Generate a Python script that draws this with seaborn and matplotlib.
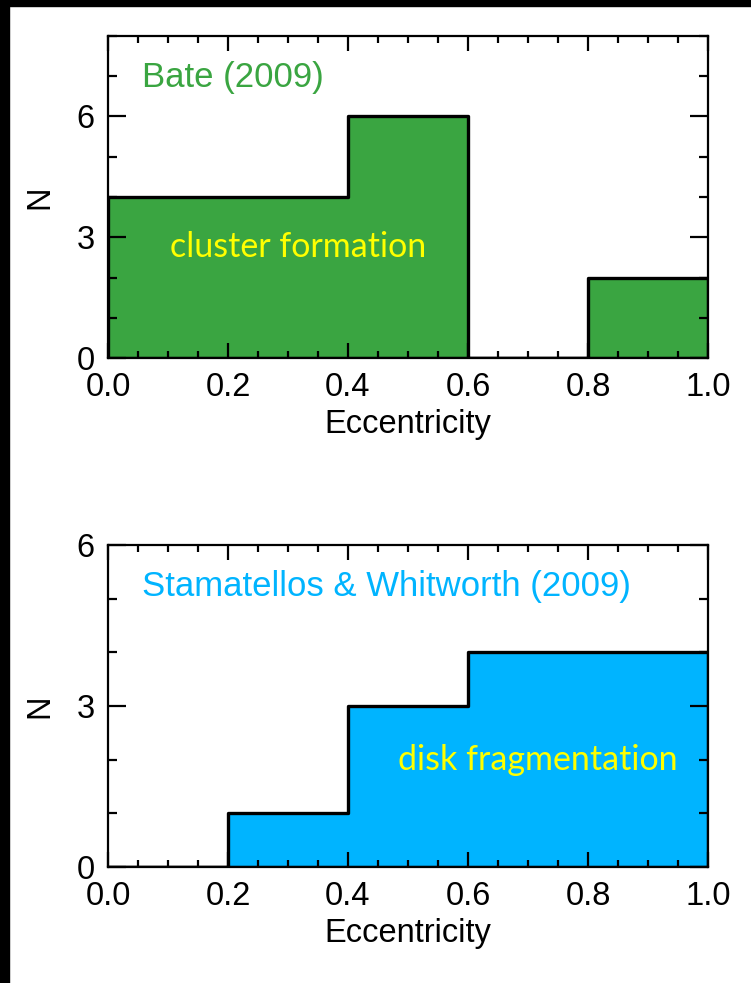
import numpy as np
import pandas as pd
import matplotlib
matplotlib.use("Agg")
import matplotlib.pyplot as plt
import seaborn as sns
from matplotlib.ticker import MultipleLocator

# ---- data ----
bin_edges = [0.0, 0.2, 0.4, 0.6, 0.8, 1.0]
bate_counts = [4, 4, 6, 0, 2]
stam_counts = [0, 1, 3, 4, 4]
bate_title = "Bate (2009)"
stam_title = "Stamatellos & Whitworth (2009)"
bate_note = "cluster formation"
stam_note = "disk fragmentation"
x_label = "Eccentricity"
y_label = "N"

GREEN = "#3aa541"
BLUE = "#00b4ff"
YELLOW = "#ffff00"

sns.set_theme(style="white")
plt.rcParams["font.family"] = ["Liberation Sans", "DejaVu Sans"]
plt.rcParams["text.color"] = "black"
plt.rcParams["xtick.color"] = "black"
plt.rcParams["ytick.color"] = "black"
plt.rcParams["axes.labelcolor"] = "black"

fig = plt.figure(figsize=(7.51, 9.83), dpi=100)
fig.patch.set_facecolor("white")

# black frame on left and top edges
fig.add_artist(plt.Rectangle((0, 0), 9 / 751, 1, transform=fig.transFigure,
                             color="black", zorder=0))
fig.add_artist(plt.Rectangle((0, 1 - 6 / 983), 1, 6 / 983, transform=fig.transFigure,
                             color="black", zorder=0))

ax1 = fig.add_axes([108 / 751, 1 - 358 / 983, 600 / 751, 322 / 983])
ax2 = fig.add_axes([108 / 751, 1 - 867 / 983, 600 / 751, 322 / 983])

centers = [(bin_edges[i] + bin_edges[i + 1]) / 2 for i in range(len(bin_edges) - 1)]

TICK_FS = 23.5


def draw(ax, counts, color, ymax, title, title_color, note, note_xy):
    df = pd.DataFrame({"e": centers, "n": counts})
    sns.histplot(data=df, x="e", weights="n", bins=bin_edges, element="step",
                 fill=True, color=color, alpha=1.0, edgecolor="black",
                 linewidth=2.4, ax=ax, zorder=1)
    ax.set_axisbelow(False)
    ax.set_xlim(0, 1.0)
    ax.set_ylim(0, ymax)
    ax.xaxis.set_major_locator(MultipleLocator(0.2))
    ax.xaxis.set_minor_locator(MultipleLocator(0.05))
    ax.yaxis.set_major_locator(MultipleLocator(3))
    ax.yaxis.set_minor_locator(MultipleLocator(1))
    ax.xaxis.set_major_formatter(matplotlib.ticker.FormatStrFormatter("%.1f"))
    ax.tick_params(axis="both", which="both", direction="in", top=True, right=True,
                   bottom=True, left=True, color="black", width=1.6,
                   labelcolor="black")
    ax.tick_params(axis="x", which="major", length=11, labelsize=TICK_FS, pad=10)
    ax.tick_params(axis="x", which="minor", length=5)
    ax.tick_params(axis="y", which="major", length=13, labelsize=TICK_FS, pad=9.5)
    ax.tick_params(axis="y", which="minor", length=6.5)
    for s in ax.spines.values():
        s.set_visible(True)
        s.set_color("black")
        s.set_linewidth(1.6)
        s.set_zorder(5)
    ax.set_xlabel(x_label, fontsize=TICK_FS, color="black")
    ax.set_ylabel(y_label, fontsize=TICK_FS, color="black")
    ax.xaxis.set_label_coords(0.5, -0.158)
    ax.yaxis.set_label_coords(-0.087, 0.5)
    ax.grid(False)
    ax.set_facecolor("white")
    ax.text(0.057, 0.87, title, transform=ax.transAxes, color=title_color,
            fontsize=25, ha="left", va="center")
    ax.text(note_xy[0], note_xy[1], note, transform=ax.transAxes, color=YELLOW,
            fontsize=24.5, ha="center", va="center", family=["Lato", "DejaVu Sans"])


draw(ax1, bate_counts, GREEN, 8, bate_title, GREEN, bate_note, (0.317, 0.345))
draw(ax2, stam_counts, BLUE, 6, stam_title, BLUE, stam_note, (0.717, 0.332))

fig.savefig("out.png", dpi=100, facecolor="white")
